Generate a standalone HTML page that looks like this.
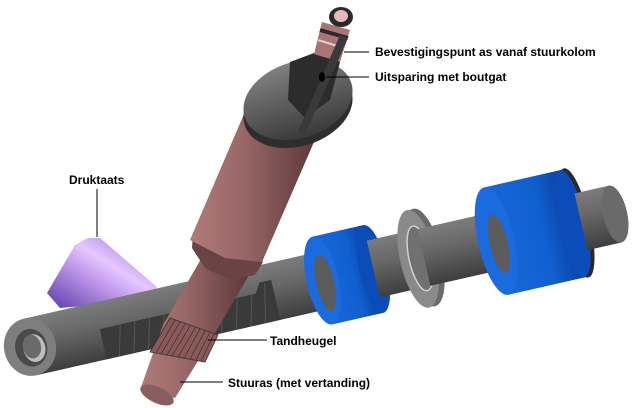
<!DOCTYPE html>
<html><head><meta charset="utf-8"><style>
html,body{margin:0;padding:0;background:#fff;}
svg{display:block;}
text{font-family:"Liberation Sans",Arial,sans-serif;font-weight:bold;font-size:12px;fill:#000;}
</style></head><body>
<svg width="640" height="408" viewBox="0 0 640 408" xmlns="http://www.w3.org/2000/svg">
<defs>
<linearGradient id="tg" x1="0" y1="0" x2="0" y2="1">
<stop offset="0" stop-color="#7c7c7c"/><stop offset="0.4" stop-color="#686868"/><stop offset="1" stop-color="#3e3e3e"/></linearGradient>
<linearGradient id="bl" x1="0" y1="0" x2="1" y2="0">
<stop offset="0" stop-color="#1a66d8"/><stop offset="0.6" stop-color="#1060d0"/><stop offset="1" stop-color="#0a3fa0"/></linearGradient>
<linearGradient id="pu" x1="0" y1="1" x2="1" y2="0">
<stop offset="0" stop-color="#5a3aa8"/><stop offset="0.45" stop-color="#c8a0f0"/><stop offset="0.6" stop-color="#e6c8ff"/><stop offset="1" stop-color="#8a60d0"/></linearGradient>
<linearGradient id="pk" x1="0" y1="0" x2="1" y2="0">
<stop offset="0" stop-color="#b07a7a"/><stop offset="0.4" stop-color="#9a6868"/><stop offset="1" stop-color="#5a3636"/></linearGradient>
<linearGradient id="fl" x1="0" y1="0" x2="0" y2="1">
<stop offset="0" stop-color="#808080"/><stop offset="1" stop-color="#3a3a3a"/></linearGradient>
</defs>

<!-- purple pressure pad -->
<polygon points="75,245 88,238 100,238 157,287 150,300 60,308 47,293" fill="url(#pu)"/>

<!-- rack tube -->
<g transform="translate(30,347) rotate(-12.8)">
<rect x="0" y="-29" width="600" height="58" fill="url(#tg)"/>
<ellipse cx="600" cy="0" rx="12" ry="29" fill="#5a5a5a"/>
<!-- teeth area -->
<polygon points="72,-2 232,-2 238,-12 250,-12 250,29 72,29" fill="#3a3a3a"/>
<g stroke="#555" stroke-width="1">
<line x1="85" y1="29" x2="93" y2="-2"/><line x1="100" y1="29" x2="108" y2="-2"/><line x1="115" y1="29" x2="123" y2="-2"/><line x1="130" y1="29" x2="138" y2="-2"/><line x1="145" y1="29" x2="153" y2="-2"/><line x1="160" y1="29" x2="168" y2="-2"/><line x1="175" y1="29" x2="183" y2="-2"/><line x1="190" y1="29" x2="198" y2="-2"/><line x1="205" y1="29" x2="213" y2="-2"/><line x1="220" y1="29" x2="228" y2="-2"/><line x1="235" y1="29" x2="243" y2="-10"/>
</g>
<!-- blue ring 1 -->
<rect x="300" y="-45" width="52" height="90" fill="url(#bl)"/>
<ellipse cx="352" cy="0" rx="14" ry="45" fill="#0c4cb8"/>
<ellipse cx="300" cy="0" rx="16" ry="45" fill="#1a6ae0"/>
<ellipse cx="302" cy="3" rx="9" ry="29" fill="#5c5c5c"/>
<rect x="352" y="-29" width="40" height="58" fill="url(#tg)"/>
<!-- gray disc -->
<ellipse cx="404" cy="0" rx="18" ry="50" fill="#6a6a6a"/>
<ellipse cx="398" cy="0" rx="18" ry="50" fill="#8a8a8a"/>
<ellipse cx="400" cy="0" rx="11" ry="33" fill="#707070" stroke="#d0d0d0" stroke-width="1.5"/>
<rect x="404" y="-29" width="70" height="58" fill="url(#tg)"/>
<!-- blue ring 2 -->
<rect x="478" y="-55" width="80" height="110" fill="url(#bl)"/>
<ellipse cx="560" cy="0" rx="14" ry="56" fill="#2a2a2a"/>
<ellipse cx="556" cy="0" rx="14" ry="55" fill="#0c4cb8"/>
<ellipse cx="478" cy="0" rx="18" ry="55" fill="#1a6ae0"/>
<ellipse cx="480" cy="3" rx="9" ry="30" fill="#5c5c5c"/>
<rect x="565" y="-29" width="35" height="58" fill="url(#tg)"/>
<ellipse cx="600" cy="0" rx="12" ry="29" fill="#6a6a6a"/>
<!-- left end face -->
<ellipse cx="0" cy="0" rx="26" ry="29" fill="#7e7e7e"/>
<ellipse cx="1" cy="1" rx="16" ry="19" fill="#4a4a4a"/>
<ellipse cx="4" cy="2" rx="11" ry="14" fill="#bdbdbd"/>
<ellipse cx="2" cy="0" rx="9" ry="12" fill="#6a6a6a"/>
</g>

<!-- steering shaft narrow part -->
<polygon points="205,252 252,270 208,345 175,398 140,390 163,325" fill="url(#pk)"/>
<ellipse cx="157" cy="395" rx="18" ry="8" transform="rotate(25 157 395)" fill="#8a5e5e"/>
<polygon points="170,318 218,335 205,362 150,352" fill="#8a5a5a" stroke="#333" stroke-width="0.8"/>
<g stroke="#3a2a2a" stroke-width="0.7">
<line x1="175" y1="320" x2="156" y2="353"/><line x1="180" y1="322" x2="161" y2="354"/><line x1="185" y1="324" x2="167" y2="355"/><line x1="190" y1="326" x2="172" y2="356"/><line x1="195" y1="328" x2="178" y2="357"/><line x1="200" y1="329" x2="184" y2="358"/><line x1="205" y1="331" x2="190" y2="359"/><line x1="210" y1="332" x2="196" y2="360"/><line x1="214" y1="334" x2="201" y2="361"/>
</g>
<polygon points="193,232 263,262 255,275 230,280 205,268 192,248" fill="#6a4444"/>
<polygon points="250,100 320,128 262,262 225,258 190,240" fill="url(#pk)"/>

<!-- flange -->
<ellipse cx="298" cy="108" rx="56" ry="38" transform="rotate(-18 298 108)" fill="#2e2e2e"/>
<ellipse cx="298" cy="100" rx="56" ry="38" transform="rotate(-18 298 100)" fill="url(#fl)"/>
<polygon points="290,62 322,50 340,62 330,100 305,118 288,100" fill="#2c2c2c"/>
<!-- top collar -->
<polygon points="322,22 350,30 340,62 314,54" fill="#a87474"/>
<line x1="318" y1="40" x2="344" y2="48" stroke="#e8d0d0" stroke-width="2"/>
<line x1="320" y1="30" x2="348" y2="38" stroke="#2a2a2a" stroke-width="4"/>
<ellipse cx="341" cy="17" rx="12" ry="10" fill="#2a2a2a"/>
<ellipse cx="341" cy="16" rx="7" ry="6" fill="#e8b8b8"/>
<polygon points="340,35 348,38 305,135 298,132" fill="#3a3a3a"/>
<ellipse cx="322" cy="77" rx="3" ry="5" fill="#000"/>

<!-- leader lines -->
<g stroke="#000" stroke-width="1">
<line x1="344" y1="52" x2="369" y2="52"/>
<line x1="326" y1="77" x2="369" y2="77"/>
<line x1="97" y1="189" x2="97" y2="237"/>
<line x1="208" y1="340" x2="267" y2="340"/>
<line x1="180" y1="382" x2="223" y2="382"/>
</g>
<text x="375" y="56">Bevestigingspunt as vanaf stuurkolom</text>
<text x="375" y="81">Uitsparing met boutgat</text>
<text x="69" y="184">Druktaats</text>
<text x="270" y="345">Tandheugel</text>
<text x="228" y="387">Stuuras (met vertanding)</text>
</svg>
</body></html>
